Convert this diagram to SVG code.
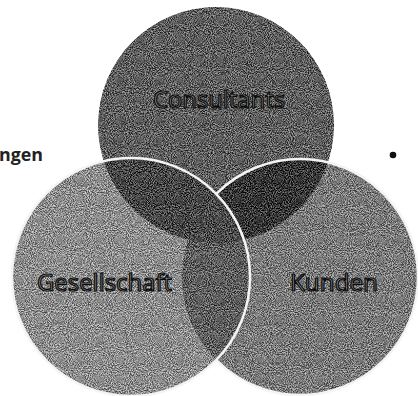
<svg xmlns="http://www.w3.org/2000/svg" width="418" height="396" viewBox="0 0 418 396">
  <style>
    .lbl { font-family: "Open Sans", "Liberation Sans", sans-serif; font-size: 23px; fill: #a0a0a0; stroke: #0a0a0a; stroke-width: 1.2px; }
    .edge { fill: none; stroke: #f4f4f4; stroke-width: 2.5; }
  </style>
  <defs>
    <clipPath id="cT"><circle cx="216" cy="125" r="118"/></clipPath>
    <clipPath id="cL"><circle cx="131" cy="277" r="119"/></clipPath>
    <mask id="notL">
      <rect width="418" height="396" fill="#fff"/>
      <circle cx="131" cy="277" r="119" fill="#000"/>
    </mask>
    <filter id="grain" x="0" y="0" width="418" height="396" filterUnits="userSpaceOnUse" color-interpolation-filters="sRGB">
      <feTurbulence type="fractalNoise" baseFrequency="0.95" numOctaves="2" seed="7" result="n"/>
      <feColorMatrix in="n" type="matrix" values="2.2 0 0 0 -0.6  2.2 0 0 0 -0.6  2.2 0 0 0 -0.6  0 0 0 0 1" result="g"/>
      <feComposite in="SourceGraphic" in2="g" operator="arithmetic" k1="0" k2="1" k3="0.55" k4="-0.275" result="mix"/>
      <feComposite in="mix" in2="SourceGraphic" operator="in"/>
    </filter>
  </defs>
  <rect width="418" height="396" fill="#fff"/>

  <g filter="url(#grain)">
    <g id="consultants">
      <circle cx="216" cy="125" r="118" fill="#5e5e5e"/>
    </g>
    <g id="kunden">
      <circle cx="300" cy="277" r="118" fill="#7a7a7a"/>
    </g>
    <g id="gesellschaft">
      <circle cx="131" cy="277" r="119" fill="#8c8c8c"/>
    </g>
    <g id="overlaps">
      <g clip-path="url(#cT)"><circle cx="131" cy="277" r="119" fill="#464646"/></g>
      <g clip-path="url(#cT)"><circle cx="300" cy="277" r="118" fill="#353535"/></g>
      <g clip-path="url(#cL)"><circle cx="300" cy="277" r="118" fill="#5e5e5e"/></g>
      <g clip-path="url(#cT)"><g clip-path="url(#cL)"><circle cx="300" cy="277" r="118" fill="#4a4a4a"/></g></g>
    </g>
  </g>

  <g id="connectors">
    <circle class="edge" cx="300" cy="277" r="118" mask="url(#notL)"/>
    <circle class="edge" cx="131" cy="277" r="119"/>
  </g>

  <g id="labels">
    <text class="lbl" x="153" y="108" textLength="132" lengthAdjust="spacingAndGlyphs">Consultants</text>
    <text class="lbl" x="37" y="291" textLength="135" lengthAdjust="spacingAndGlyphs">Gesellschaft</text>
    <text class="lbl" x="290" y="291" textLength="88" lengthAdjust="spacingAndGlyphs">Kunden</text>
  </g>

  <g id="fragment">
    <text x="-1" y="161" font-family="'Open Sans', 'Liberation Sans', sans-serif" font-size="18" font-weight="bold" fill="#222" textLength="44" lengthAdjust="spacingAndGlyphs">ngen</text>
    <circle cx="393" cy="155" r="3.3" fill="#111"/>
  </g>
</svg>
